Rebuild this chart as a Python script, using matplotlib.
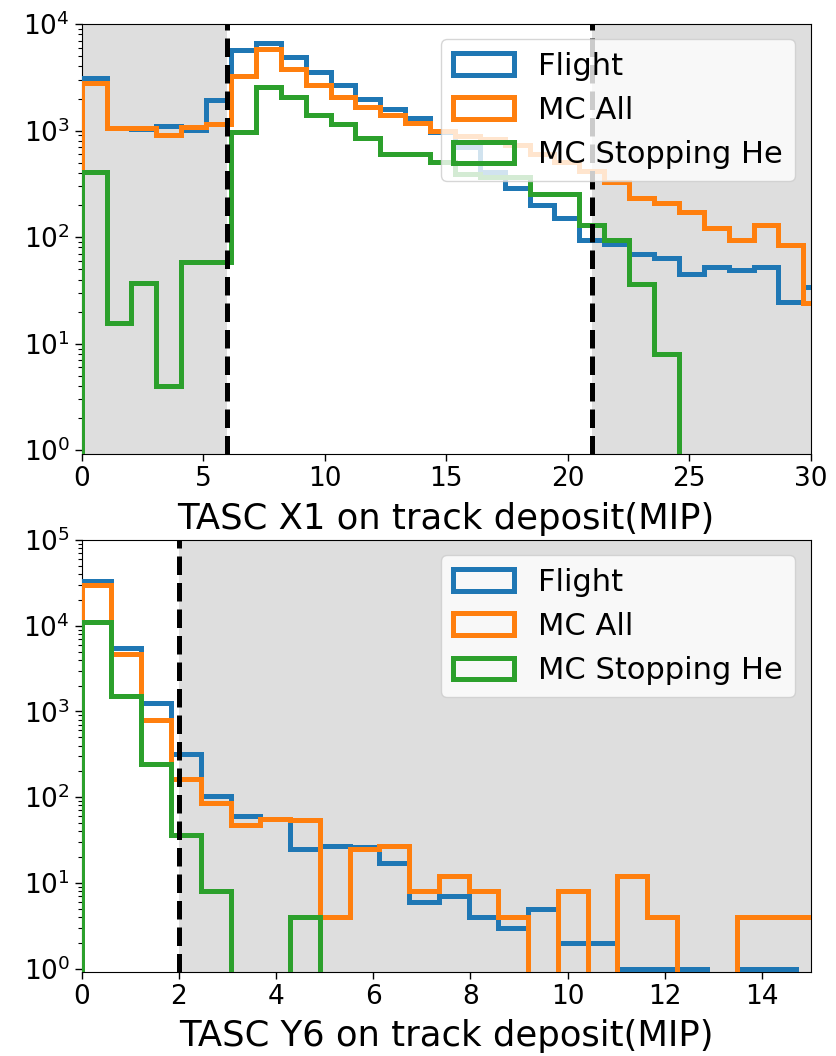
#!/usr/bin/env python3
import numpy as np
import matplotlib
matplotlib.use("Agg")
import matplotlib.pyplot as plt

# TASC X1 on-track deposit, 30 bins from 0 to 30.72 MIP
x1_edges = np.linspace(0, 30.72, 31)
x1_flight = [3090, 1050, 1040, 1100, 1023, 1933, 5700, 6600, 4920, 3560,
             2675, 1974, 1588, 1300, 980, 700, 405, 287, 200, 150,
             94, 87, 70, 64, 45, 53, 49, 52, 24.5, 34]
x1_mc_all = [2770, 1050, 1050, 906, 1083, 1150, 3250, 5800, 3815, 2675,
             2075, 1671, 1396, 1170, 1000, 890, 843, 730, 600, 510,
             415, 330, 235, 209, 172, 122, 95, 129, 84, 24]
x1_mc_stop = [408, 15.5, 37, 4, 58, 58, 975, 2540, 2075, 1396,
              1150, 861, 609, 609, 508, 395, 370, 365, 256, 256,
              129, 95, 36.5, 8, 0, 0, 0, 0, 0, 0]
x1_cuts = (6, 21)

# TASC Y6 on-track deposit, 25 bins from 0 to 15.31 MIP
y6_edges = np.linspace(0, 15.3125, 26)
y6_flight = [33400, 5480, 1270, 318, 103, 60, 55, 25, 27, 26,
             17, 6, 7, 4, 3, 5, 2, 2, 1, 1,
             1, 0, 1, 1, 0]
y6_mc_all = [30000, 4660, 798, 165, 86, 48, 55, 54, 4, 25,
             27, 8, 12, 8, 4, 0, 8, 0, 12, 4,
             0, 0, 4, 4, 4]
y6_mc_stop = [11100, 1520, 247, 36, 8, 0, 0, 4, 0, 0,
              0, 0, 0, 0, 0, 0, 0, 0, 0, 0,
              0, 0, 0, 0, 0]
y6_cut = 2

labels = ["Flight", "MC All", "MC Stopping He"]
colors = ["tab:blue", "tab:orange", "tab:green"]
shade = "#dedede"


def draw_hists(ax, edges, series):
    centers = 0.5 * (edges[:-1] + edges[1:])
    for vals, lab, col in zip(series, labels, colors):
        ax.hist(centers, bins=edges, weights=vals, histtype="step",
                lw=3.6, color=col, label=lab, zorder=3)
    ax.set_yscale("log")


def style(ax, xlabel):
    ax.set_xlabel(xlabel, fontsize=25.5, labelpad=7)
    ax.tick_params(labelsize=19, length=5, width=1)
    ax.tick_params(which="minor", length=3, width=0.8)
    ax.legend(loc="upper right", fontsize=22, handlelength=2.0,
              borderaxespad=0.5, labelspacing=0.5)


def main(out_plot="out.png"):
    fig = plt.figure(figsize=(8.36, 10.56), dpi=100)
    ax1 = fig.add_axes([0.0977, 0.5700, 0.8720, 0.4072])
    ax2 = fig.add_axes([0.0977, 0.0798, 0.8720, 0.4088])

    # top: X1 with acceptance window 6-21 MIP
    ax1.axvspan(0, x1_cuts[0], color=shade, zorder=0, lw=0)
    ax1.axvspan(x1_cuts[1], 30, color=shade, zorder=0, lw=0)
    draw_hists(ax1, x1_edges, [x1_flight, x1_mc_all, x1_mc_stop])
    for c in x1_cuts:
        ax1.axvline(c, color="k", ls="--", lw=3.6, zorder=4)
    ax1.set_xlim(0, 30)
    ax1.set_ylim(0.92, 1e4)
    ax1.set_xticks([0, 5, 10, 15, 20, 25, 30])
    style(ax1, "TASC X1 on track deposit(MIP)")

    # bottom: Y6 with upper cut at 2 MIP
    ax2.axvspan(y6_cut, 15, color=shade, zorder=0, lw=0)
    draw_hists(ax2, y6_edges, [y6_flight, y6_mc_all, y6_mc_stop])
    ax2.axvline(y6_cut, color="k", ls="--", lw=3.6, zorder=4)
    ax2.set_xlim(0, 15)
    ax2.set_ylim(0.92, 1e5)
    ax2.set_xticks([0, 2, 4, 6, 8, 10, 12, 14])
    style(ax2, "TASC Y6 on track deposit(MIP)")

    fig.savefig(out_plot, dpi=100)


if __name__ == "__main__":
    main()
